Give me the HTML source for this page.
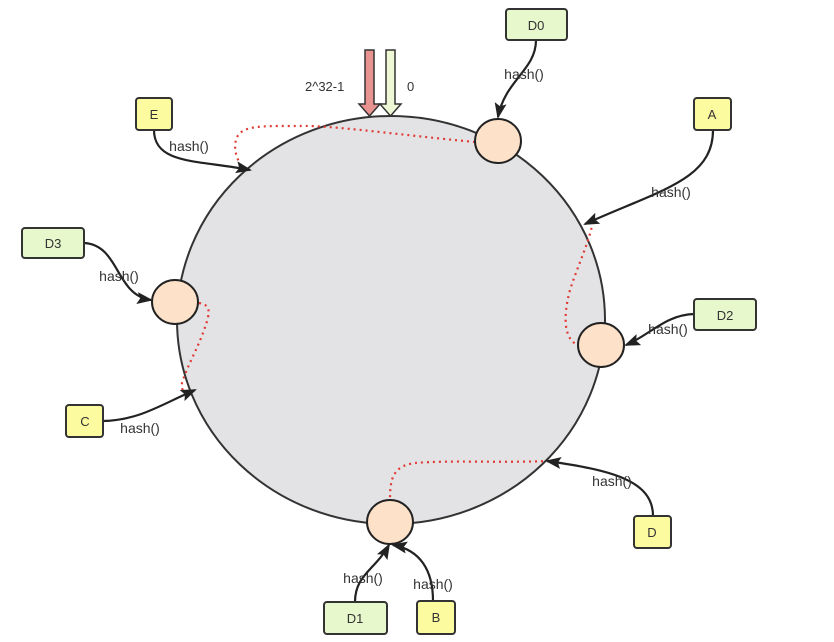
<!DOCTYPE html>
<html><head><meta charset="utf-8"><style>
html,body{margin:0;padding:0;background:#fff;}
svg{display:block;}
text{font-family:"Liberation Sans",sans-serif;fill:#333;}
</style></head><body>
<svg width="834" height="642" viewBox="0 0 834 642" xmlns="http://www.w3.org/2000/svg">
<defs>
<marker id="ar" markerWidth="16" markerHeight="12" refX="14" refY="6" orient="auto" markerUnits="userSpaceOnUse">
<path d="M0,0 L16,6 L0,12 L3,6 Z" fill="#222"/>
</marker>
</defs>
<ellipse cx="391" cy="320" rx="214" ry="204" fill="#e3e3e5" stroke="#333" stroke-width="2"/>
<g fill="none" stroke="#e03a34" stroke-width="2.2" stroke-dasharray="2,4">
<path d="M475,142 C400,135 330,125 300,126 C260,126 240,125 236,140 C233,150 238,162 243,168"/>
<path d="M593,222 C588,245 578,265 570,290 C562,320 565,340 578,345"/>
<path d="M199,303 C210,305 209,310 208,318 C200,345 190,360 185,375 C180,385 181,390 186,393"/>
<path d="M549,461 C500,463 450,460 415,463 C392,466 390,480 390,500"/>
</g>
<g fill="none" stroke="#222" stroke-width="2.2">
<path d="M536,40 C536,70 505,80 498,117" marker-end="url(#ar)"/>
<path d="M154,130 C154,165 200,160 250,170" marker-end="url(#ar)"/>
<path d="M713,130 C713,180 660,190 585,224" marker-end="url(#ar)"/>
<path d="M84,243 C120,245 115,295 151,300" marker-end="url(#ar)"/>
<path d="M694,314 C665,315 650,335 626,345" marker-end="url(#ar)"/>
<path d="M103,421 C140,420 160,405 195,390" marker-end="url(#ar)"/>
<path d="M653,516 C653,480 610,470 547,461" marker-end="url(#ar)"/>
<path d="M355,602 C355,575 375,570 389,545" marker-end="url(#ar)"/>
<path d="M433,601 C433,570 420,550 393,545" marker-end="url(#ar)"/>
</g>
<path d="M365,50 h9 v54 h6 l-10.5,12 l-10.5,-12 h6 Z" fill="#e8938f" stroke="#333" stroke-width="1.5"/>
<path d="M386,50 h9 v54 h6 l-10.5,12 l-10.5,-12 h6 Z" fill="#eef8d4" stroke="#333" stroke-width="1.5"/>
<text x="305" y="91" font-size="13">2^32-1</text>
<text x="407" y="91" font-size="13">0</text>
<g fill="#fde1c8" stroke="#222" stroke-width="2">
<ellipse cx="498" cy="141" rx="23" ry="22"/>
<ellipse cx="175" cy="302" rx="23" ry="22"/>
<ellipse cx="601" cy="345" rx="23" ry="22"/>
<ellipse cx="390" cy="522" rx="23" ry="22"/>
</g>
<g stroke="#333" stroke-width="2">
<rect x="506" y="9" width="61" height="31" rx="3" fill="#e6f8cc"/>
<rect x="136" y="98" width="36" height="32" rx="3" fill="#fdfba0"/>
<rect x="694" y="98" width="37" height="32" rx="3" fill="#fdfba0"/>
<rect x="22" y="228" width="62" height="30" rx="3" fill="#e6f8cc"/>
<rect x="694" y="299" width="62" height="31" rx="3" fill="#e6f8cc"/>
<rect x="66" y="405" width="37" height="32" rx="3" fill="#fdfba0"/>
<rect x="634" y="516" width="37" height="32" rx="3" fill="#fdfba0"/>
<rect x="324" y="602" width="63" height="32" rx="3" fill="#e6f8cc"/>
<rect x="417" y="601" width="38" height="33" rx="3" fill="#fdfba0"/>
</g>
<g font-size="13" text-anchor="middle">
<text x="536" y="30">D0</text>
<text x="154" y="119">E</text>
<text x="712" y="119">A</text>
<text x="53" y="248">D3</text>
<text x="725" y="320">D2</text>
<text x="85" y="426">C</text>
<text x="652" y="537">D</text>
<text x="355" y="623">D1</text>
<text x="436" y="622">B</text>
</g>
<g font-size="14" text-anchor="middle">
<text x="524" y="79">hash()</text>
<text x="189" y="151">hash()</text>
<text x="671" y="197">hash()</text>
<text x="119" y="281">hash()</text>
<text x="668" y="334">hash()</text>
<text x="140" y="433">hash()</text>
<text x="612" y="486">hash()</text>
<text x="363" y="583">hash()</text>
<text x="433" y="589">hash()</text>
</g>
</svg>
</body></html>
